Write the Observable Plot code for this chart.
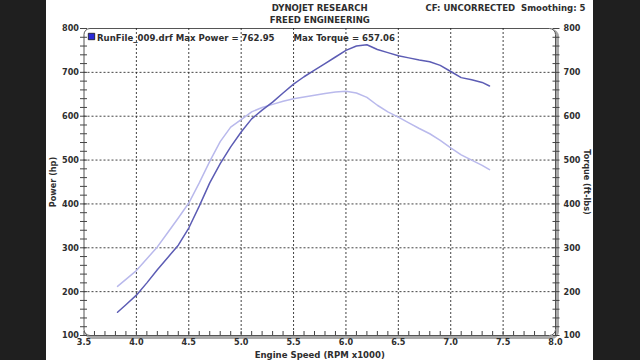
<!DOCTYPE html>
<html>
<head>
<meta charset="utf-8">
<script src="https://cdn.jsdelivr.net/npm/d3@7"></script>
<script src="https://cdn.jsdelivr.net/npm/@observablehq/plot@0.6"></script>
<style>
  html, body { margin: 0; padding: 0; background: #1f1f1f; }
  #chart svg { display: block; }
</style>
</head>
<body>
<div id="chart"></div>
<script>
// Engine speed (RPM x1000)
const rpm = [3.82, 3.9, 4.0, 4.1, 4.2, 4.3, 4.4, 4.5, 4.6, 4.7, 4.8, 4.9, 5.0, 5.1, 5.2, 5.3, 5.4, 5.5, 5.6, 5.7, 5.8, 5.9, 6.0, 6.1, 6.2, 6.3, 6.4, 6.5, 6.6, 6.7, 6.8, 6.9, 7.0, 7.1, 7.2, 7.3, 7.37];
// Power (hp)
const power = [153, 170, 192, 220, 250, 278, 306, 345, 395, 448, 492, 530, 564, 594, 614, 632, 653, 673, 690, 705, 720, 735, 750, 760, 763, 752, 745, 738, 733, 728, 724, 716, 702, 688, 683, 677, 669];
// Torque (ft-lbs)
const torque = [212, 228, 248, 275, 302, 335, 368, 402, 448, 497, 542, 575, 592, 610, 620, 627, 634, 640, 644, 648, 652, 655, 657, 653, 643, 625, 610, 598, 585, 572, 560, 545, 528, 512, 500, 488, 478];

const xMajor = [3.5, 4.0, 4.5, 5.0, 5.5, 6.0, 6.5, 7.0, 7.5, 8.0];
const yMajor = [100, 200, 300, 400, 500, 600, 700, 800];
const xGrid = [4.0, 4.5, 5.0, 5.5, 6.0, 6.5, 7.0, 7.5];
const yGrid = [200, 300, 400, 500, 600, 700];
const xMinor = d3.range(35, 81).map(d => d / 10);
const yMinor = d3.range(100, 801, 20);

const titles = ["DYNOJET RESEARCH", "FREED ENGINEERING"];
const cfText = "CF: UNCORRECTED  Smoothing: 5";
const legendPower = "RunFile_009.drf Max Power = 762.95";
const legendTorque = "Max Torque = 657.06";

const rows = rpm.map((r, i) => ({rpm: r, power: power[i], torque: torque[i]}));

const ink = "#2e2e2e";
const chart = Plot.plot({
  width: 640,
  height: 360,
  marginLeft: 83.5,
  marginRight: 85,
  marginTop: 28,
  marginBottom: 25,
  style: {
    fontFamily: "'DejaVu Sans Condensed', 'DejaVu Sans', sans-serif",
    fontWeight: "bold",
    fontSize: "9px",
    color: ink,
    background: "linear-gradient(to right, #1f1f1f 0px, #1f1f1f 46px, #ffffff 46px, #ffffff 593px, #1f1f1f 593px)"
  },
  x: {domain: [3.5, 8.0]},
  y: {domain: [100, 800]},
  marks: [
    // frame with shadow
    Plot.frame({rx: 6, stroke: "#a8a8a8", strokeWidth: 3, dx: 2, dy: 2}),
    Plot.frame({rx: 6, fill: "white", stroke: "#555", strokeWidth: 1}),
    // dotted grid
    Plot.gridX(xGrid, {stroke: "#222", strokeOpacity: 0.85, strokeDasharray: "2,2", strokeWidth: 1}),
    Plot.gridY(yGrid, {stroke: "#222", strokeOpacity: 0.85, strokeDasharray: "2,2", strokeWidth: 1}),
    // tick marks crossing the frame
    Plot.axisY(yMinor, {anchor: "left", tickSize: 7, dx: 3.5, fill: "none", stroke: "#444", label: null}),
    Plot.axisY(yMinor, {anchor: "right", tickSize: 7, dx: -3.5, fill: "none", stroke: "#444", label: null}),
    Plot.axisX(xMinor, {anchor: "bottom", tickSize: 4, dy: -4, fill: "none", stroke: "#444", label: null}),
    // tick labels
    Plot.axisY(yMajor, {anchor: "left", tickSize: 0, tickPadding: 5, tickFormat: d3.format("d"), fill: ink, label: null}),
    Plot.axisY(yMajor, {anchor: "right", tickSize: 0, tickPadding: 8, tickFormat: d3.format("d"), fill: ink, label: null}),
    Plot.axisX(xMajor, {anchor: "bottom", tickSize: 0, tickPadding: 3, tickFormat: d3.format(".1f"), fill: ink, label: null}),
    // curves
    Plot.line(rows, {x: "rpm", y: "torque", stroke: "#b9b9ec", strokeWidth: 1.5}),
    Plot.line(rows, {x: "rpm", y: "power", stroke: "#5c5cb4", strokeWidth: 1.5}),
    // legend
    Plot.dot([legendPower], {frameAnchor: "top-left", dx: 7.5, dy: 8, symbol: "square", r: 3.6, fill: "#2a2ad8", stroke: "#111", strokeWidth: 0.8}),
    Plot.text([legendPower], {frameAnchor: "top-left", dx: 13, dy: 9, textAnchor: "start", lineAnchor: "middle", fill: ink, fontSize: 9.5}),
    Plot.text([legendTorque], {frameAnchor: "top-left", dx: 209.5, dy: 9, textAnchor: "start", lineAnchor: "middle", fill: ink, fontSize: 9.5}),
    // titles
    Plot.text([titles[0]], {frameAnchor: "top", dy: -20.7, lineAnchor: "middle", fill: ink, fontSize: 9.5}),
    Plot.text([titles[1]], {frameAnchor: "top", dy: -8.7, lineAnchor: "middle", fill: ink, fontSize: 9.5}),
    Plot.text([cfText], {frameAnchor: "top-right", dx: 30, dy: -20.7, textAnchor: "end", lineAnchor: "middle", fill: ink, fontSize: 9.5}),
    // axis titles
    Plot.text(["Power (hp)"], {frameAnchor: "left", dx: -30.5, rotate: -90, textAnchor: "middle", lineAnchor: "middle", fill: ink}),
    Plot.text(["Torque (ft-lbs)"], {frameAnchor: "right", dx: 31, rotate: 90, textAnchor: "middle", lineAnchor: "middle", fill: ink}),
    Plot.text(["Engine Speed (RPM x1000)"], {frameAnchor: "bottom", dy: 19, textAnchor: "middle", lineAnchor: "middle", fill: ink, fontSize: 9.5})
  ]
});
document.getElementById("chart").appendChild(chart);
</script>
</body>
</html>
